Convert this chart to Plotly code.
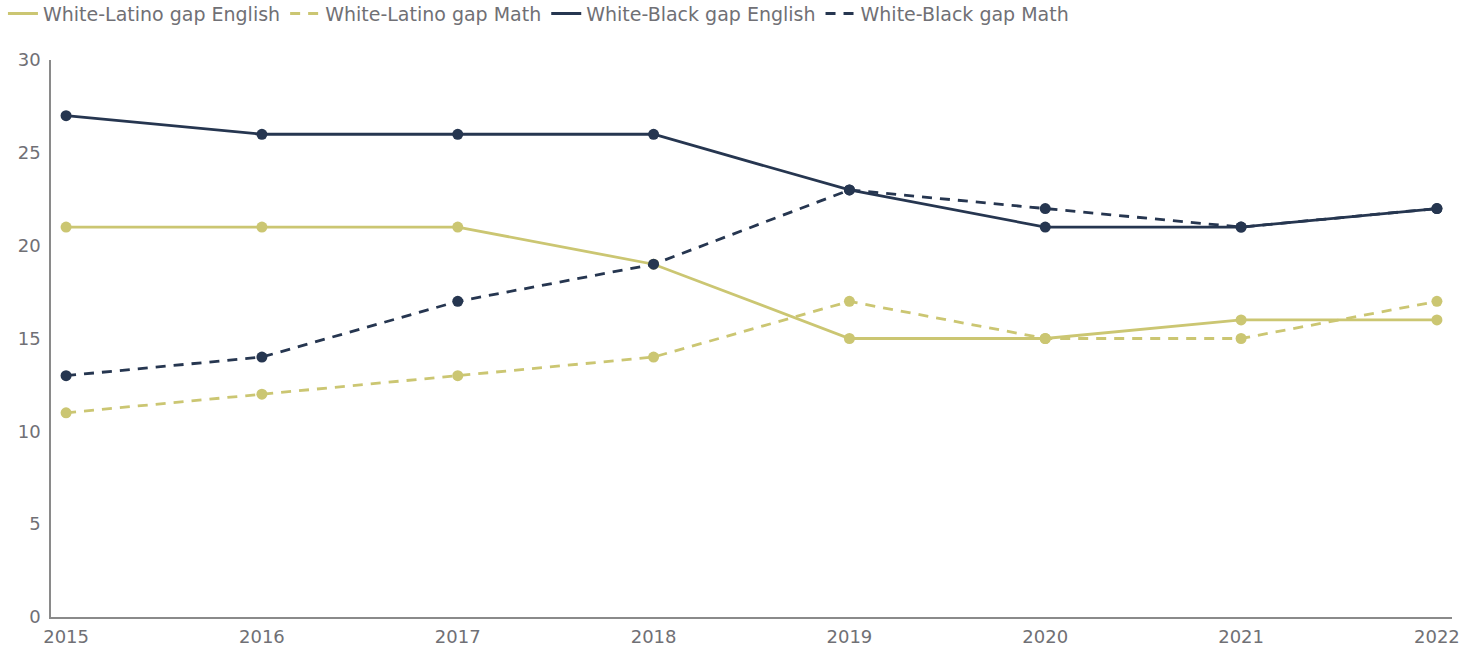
import plotly.graph_objects as go

years = [2015, 2016, 2017, 2018, 2019, 2020, 2021, 2022]
wl_english = [21, 21, 21, 19, 15, 15, 16, 16]
wl_math = [11, 12, 13, 14, 17, 15, 15, 17]
wb_english = [27, 26, 26, 26, 23, 21, 21, 22]
wb_math = [13, 14, 17, 19, 23, 22, 21, 22]

OLIVE = "#CBC672"
NAVY = "#263650"
TEXT = "#707075"
DASH = "10px,8px"
FONT = "DejaVu Sans, sans-serif"

series = [
    ("White-Latino gap English", wl_english, OLIVE, "solid"),
    ("White-Latino gap Math", wl_math, OLIVE, DASH),
    ("White-Black gap English", wb_english, NAVY, "solid"),
    ("White-Black gap Math", wb_math, NAVY, DASH),
]

fig = go.Figure()
for name, vals, color, dash in series:
    fig.add_trace(go.Scatter(
        x=years, y=vals, name=name, mode="lines+markers",
        line=dict(color=color, width=2.8, dash=dash),
        marker=dict(color=color, size=11),
        showlegend=False,
    ))
# legend entries drawn as plain line swatches
for name, vals, color, dash in series:
    fig.add_trace(go.Scatter(
        x=[None], y=[None], name=name, mode="lines",
        line=dict(color=color, width=3, dash=dash),
        showlegend=True,
    ))

fig.update_layout(
    width=1466, height=650,
    margin=dict(l=51, r=14, t=60, b=33, autoexpand=False),
    paper_bgcolor="white", plot_bgcolor="white",
    font=dict(family=FONT, size=18, color=TEXT),
    showlegend=True,
    legend=dict(
        orientation="h",
        x=-0.0343, y=1.083, xanchor="left", yanchor="middle",
        font=dict(family=FONT, size=19, color=TEXT), itemwidth=30,
        tracegroupgap=0, bgcolor="rgba(0,0,0,0)",
    ),
    xaxis=dict(
        range=[2014.923, 2022.077], tickvals=years, ticktext=[str(y) for y in years],
        showgrid=False, zeroline=False, showline=True, linecolor="#8A8A8A", linewidth=1.5,
        ticks="", ticklabelstandoff=3, tickfont=dict(family=FONT, size=18, color=TEXT),
        automargin=False,
    ),
    yaxis=dict(
        range=[0, 30], tickvals=[0, 5, 10, 15, 20, 25, 30],
        showgrid=False, zeroline=False, showline=True, linecolor="#8A8A8A", linewidth=1.5,
        ticks="", ticklabelstandoff=5, tickfont=dict(family=FONT, size=18, color=TEXT),
        automargin=False,
    ),
)

fig.write_html("out.html")
